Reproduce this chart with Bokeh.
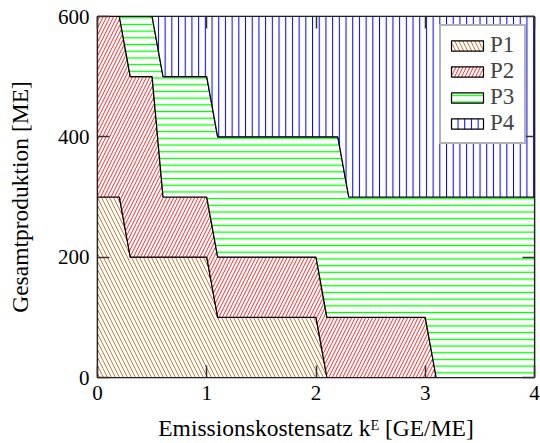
from bokeh.plotting import figure
from bokeh.models import LinearAxis, Legend, LegendItem, FixedTicker, Range1d
from bokeh.embed import file_html
from bokeh.resources import INLINE

# Breakpoints of the emission cost rate k^E [GE/ME]
x = [0, 0.2, 0.3, 0.5, 0.6, 1.0, 1.1, 2.0, 2.1, 2.2, 2.3, 3.0, 3.1, 4.0]
# Production quantities per product [ME] (stacked)
p1 = [300, 300, 200, 200, 200, 200, 100, 100, 0, 0, 0, 0, 0, 0]
p2 = [300, 300, 300, 300, 100, 100, 100, 100, 100, 100, 100, 100, 0, 0]
p3 = [0, 0, 100, 100, 200, 200, 200, 200, 300, 300, 200, 200, 300, 300]
p4 = [0, 0, 0, 0, 100, 100, 200, 200, 200, 200, 300, 300, 300, 300]
names = ["P1", "P2", "P3", "P4"]
x_ticks = [0, 1, 2, 3, 4]
y_ticks = [0, 200, 400, 600]

FONT = "Liberation Serif, DejaVu Serif, Noto Serif, serif"
TICK_FS = "21px"
LABEL_FS = "23.5px"

p = figure(width=540, height=443, output_backend="svg", toolbar_location=None,
           x_range=Range1d(0, 4), y_range=Range1d(0, 600),
           min_border_left=97, min_border_right=6, min_border_top=16, min_border_bottom=66)
p.xgrid.visible = False
p.ygrid.visible = False
p.outline_line_color = "black"
p.outline_line_width = 1.6
p.outline_line_alpha = 1.0

styles = [
    dict(hatch_pattern="\\", hatch_color="#cc7a30", hatch_scale=8, hatch_weight=1),
    dict(hatch_pattern="/", hatch_color="#ff1010", hatch_scale=7, hatch_weight=0.9),
    dict(hatch_pattern="-", hatch_color="#00ff00", hatch_scale=6.7, hatch_weight=1.3),
    dict(hatch_pattern="|", hatch_color="#0000ff", hatch_scale=6.7, hatch_weight=1),
]

series = [p1, p2, p3, p4]
lower = [0] * len(x)
items = []
for name, vals, st in zip(names, series, styles):
    upper = [l + v for l, v in zip(lower, vals)]
    xs = list(x) + list(x[::-1])
    ys = upper + lower[::-1]
    r = p.patch(xs, ys, fill_color="white", fill_alpha=1.0, line_color="black",
                line_width=1.2, **st)
    items.append(LegendItem(label=name, renderers=[r]))
    lower = upper

for ax in (p.xaxis[0], p.yaxis[0]):
    ax.major_tick_in = 12
    ax.major_tick_out = 0
    ax.minor_tick_in = 0
    ax.minor_tick_out = 0
    ax.major_tick_line_color = "#333333"
    ax.major_tick_line_width = 1.5
    ax.axis_line_color = None
    ax.major_label_text_font = FONT
    ax.major_label_text_font_size = TICK_FS
    ax.major_label_text_color = "black"
    ax.axis_label_text_font = FONT
    ax.axis_label_text_font_size = LABEL_FS
    ax.axis_label_text_font_style = "normal"
    ax.axis_label_text_color = "black"

p.xaxis[0].ticker = FixedTicker(ticks=x_ticks)
p.yaxis[0].ticker = FixedTicker(ticks=y_ticks)
p.xaxis[0].axis_label = "Emissionskostensatz kᴱ [GE/ME]"
p.yaxis[0].axis_label = "Gesamtproduktion [ME]"
p.xaxis[0].major_label_standoff = 8
p.yaxis[0].major_label_standoff = 8
p.xaxis[0].axis_label_standoff = 12
p.yaxis[0].axis_label_standoff = 22

for loc, tk in (("above", x_ticks), ("right", y_ticks)):
    a = LinearAxis(ticker=FixedTicker(ticks=tk))
    a.major_tick_in = 12
    a.major_tick_out = 0
    a.minor_tick_in = 0
    a.minor_tick_out = 0
    a.major_tick_line_color = "#333333"
    a.major_tick_line_width = 1.5
    a.axis_line_color = None
    a.major_label_overrides = {t: "" for t in tk}
    a.major_label_standoff = 0
    p.add_layout(a, loc)

legend = Legend(items=items, location="top_right")
legend.margin = 8
legend.padding = 6
legend.spacing = 0
legend.glyph_width = 40
legend.glyph_height = 13
legend.label_height = 13
legend.label_width = 28
legend.label_text_font = FONT
legend.label_text_font_size = "23px"
legend.label_standoff = 3
legend.border_line_color = "#666666"
legend.border_line_width = 2
legend.background_fill_alpha = 1.0
p.add_layout(legend)

open("out.html", "w").write(file_html(p, INLINE))
